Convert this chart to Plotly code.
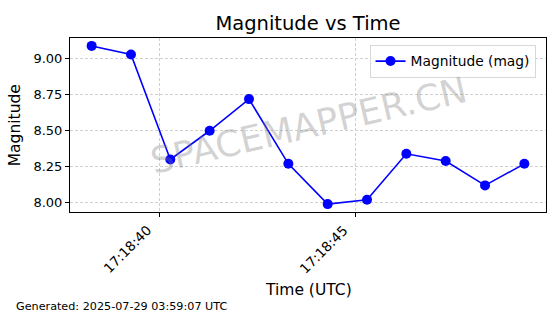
import plotly.graph_objects as go

times = ["2025-07-28 17:18:38.28", "2025-07-28 17:18:39.28", "2025-07-28 17:18:40.28",
         "2025-07-28 17:18:41.28", "2025-07-28 17:18:42.28", "2025-07-28 17:18:43.28",
         "2025-07-28 17:18:44.28", "2025-07-28 17:18:45.28", "2025-07-28 17:18:46.28",
         "2025-07-28 17:18:47.28", "2025-07-28 17:18:48.28", "2025-07-28 17:18:49.28"]
magnitudes = [9.09, 9.03, 8.30, 8.50, 8.72, 8.27, 7.99, 8.02, 8.34, 8.29, 8.12, 8.27]
x_range = ["2025-07-28 17:18:37.73", "2025-07-28 17:18:49.83"]
y_range = [7.935, 9.145]
tick_vals = ["2025-07-28 17:18:40", "2025-07-28 17:18:45"]
tick_text = ["17:18:40", "17:18:45"]
y_ticks = [8.00, 8.25, 8.50, 8.75, 9.00]

FONT = "DejaVu Sans"

fig = go.Figure()
fig.add_trace(go.Scatter(
    x=times, y=magnitudes, mode="lines+markers", name="Magnitude (mag)",
    line=dict(color="#0000ff", width=1.6),
    marker=dict(color="#0000ff", size=10),
))

fig.update_layout(
    width=560, height=314,
    margin=dict(l=70, r=14, t=38, b=102),
    paper_bgcolor="white", plot_bgcolor="white",
    font=dict(family=FONT, color="black", size=13),
    title=dict(text="Magnitude vs Time", x=0.55, xanchor="center", y=0.927, yanchor="middle",
               font=dict(size=19.5, family=FONT, color="black")),
    showlegend=True,
    legend=dict(x=0.978, y=0.962, xanchor="right", yanchor="top",
                bgcolor="rgba(255,255,255,0.8)", bordercolor="#d8d8d8", borderwidth=1,
                itemwidth=30, entrywidth=130, font=dict(size=13.8, family=FONT)),
    xaxis=dict(range=x_range, type="date", tickvals=tick_vals, showticklabels=False,
               ticks="outside", ticklen=4, tickcolor="black",
               showgrid=True, gridcolor="#d0d0d0", griddash="3px,2px", gridwidth=1,
               showline=True, linecolor="black", linewidth=1, mirror=True,
               zeroline=False),
    yaxis=dict(range=y_range, tickvals=y_ticks, tickformat=".2f",
               ticks="outside", ticklen=4, tickcolor="black",
               showgrid=True, gridcolor="#d0d0d0", griddash="3px,2px", gridwidth=1,
               showline=True, linecolor="black", linewidth=1, mirror=True,
               zeroline=False, tickfont=dict(size=13)),
)

for tv, tt in zip(tick_vals, tick_text):
    fig.add_annotation(text=tt, x=tv, xref="x", yref="paper", y=-0.04,
                       xanchor="right", yanchor="top", textangle=-45, showarrow=False,
                       xshift=-2, font=dict(size=13.5, family=FONT))

fig.add_annotation(text="Magnitude", textangle=-90, xref="paper", yref="paper",
                   x=-0.115, y=0.5, xanchor="center", yanchor="middle", showarrow=False,
                   font=dict(size=15.5, family=FONT))
fig.add_annotation(text="Time (UTC)", xref="paper", yref="paper",
                   x=0.5, y=-0.45, xanchor="center", yanchor="middle", showarrow=False,
                   font=dict(size=15.5, family=FONT))
fig.add_annotation(text="Generated: 2025-07-29 03:59:07 UTC", xref="paper", yref="paper",
                   x=-0.118, y=-0.545, xanchor="left", yanchor="middle", showarrow=False,
                   font=dict(size=11.2, family=FONT))
fig.add_annotation(text="SPACEMAPPER.CN", xref="paper", yref="paper",
                   x=0.5, y=0.5, xanchor="center", yanchor="middle", showarrow=False,
                   textangle=-13, font=dict(size=36, family=FONT, color="rgba(128,128,128,0.35)"))

fig.write_html("out.html")
